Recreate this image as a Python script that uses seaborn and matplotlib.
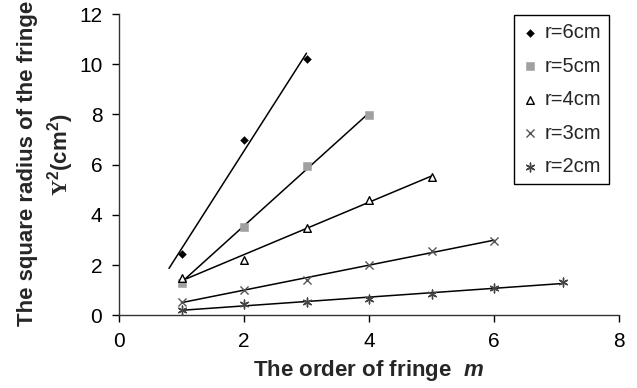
import matplotlib
matplotlib.use("Agg")
import matplotlib.pyplot as plt
import seaborn as sns
import numpy as np
import pandas as pd

# fringe data: order m vs square radius Y^2 (cm^2)
labels = ["r=6cm", "r=5cm", "r=4cm", "r=3cm", "r=2cm"]
m_r6 = [1, 2, 3]
y_r6 = [2.43, 6.98, 10.22]
m_r5 = [1, 2, 3, 4]
y_r5 = [1.30, 3.52, 5.95, 7.98]
m_r4 = [1, 2, 3, 4, 5]
y_r4 = [1.50, 2.20, 3.49, 4.59, 5.52]
m_r3 = [1, 2, 3, 4, 5, 6]
y_r3 = [0.54, 1.00, 1.42, 2.00, 2.56, 2.97]
m_r2 = [1, 2, 3, 4, 5, 6, 7.1]
y_r2 = [0.20, 0.44, 0.54, 0.65, 0.86, 1.09, 1.31]
# backward forecast of each linear trendline (in m units)
backcast = [0.2, 0, 0, 0, 0]

xs = [m_r6, m_r5, m_r4, m_r3, m_r2]
ys = [y_r6, y_r5, y_r4, y_r3, y_r2]

sns.set_style("ticks")
plt.rcParams["font.family"] = ["Liberation Sans", "DejaVu Sans"]
plt.rcParams["mathtext.fontset"] = "custom"
plt.rcParams["mathtext.rm"] = "Liberation Sans:bold"
plt.rcParams["mathtext.bf"] = "Liberation Serif:bold"
plt.rcParams["mathtext.it"] = "Liberation Sans:bold:italic"

W, H = 637, 388
fig = plt.figure(figsize=(W / 100, H / 100), dpi=100)
ax = fig.add_axes([119 / W, 1 - 315.3 / H, 500 / W, 301.3 / H])

styles = [
    dict(marker="D", s=16, color="black", edgecolor="black"),
    dict(marker="s", s=26, color="#a0a0a0", edgecolor="#a0a0a0"),
    dict(marker="^", s=30, facecolor="white", edgecolor="black", linewidth=1.0),
    dict(marker="x", s=34, color="#555555", linewidth=1.0),
    dict(marker=(6, 2, 0), s=40, color="#444444", edgecolor="#444444", linewidth=1.0),
]

for lab, x, y, st, back in zip(labels, xs, ys, styles, backcast):
    df = pd.DataFrame({"m": x, "y2": y})
    k, b = np.polyfit(df["m"], df["y2"], 1)
    fit = pd.DataFrame({"m": [df["m"].min() - back, df["m"].max()]})
    fit["y2"] = k * fit["m"] + b
    sns.lineplot(data=fit, x="m", y="y2", ax=ax, color="black", linewidth=1.1,
                 label="_nolegend_")
    sns.scatterplot(data=df, x="m", y="y2", ax=ax, label=lab, zorder=3, **st)

ax.set_xlim(0, 8)
ax.set_ylim(0, 12)
ax.set_xticks([0, 2, 4, 6, 8])
ax.set_yticks([0, 2, 4, 6, 8, 10, 12])
ax.tick_params(axis="both", labelsize=15, direction="out", length=5, width=1,
               pad=7, color="black", labelcolor="black")
for side in ["top", "right"]:
    ax.spines[side].set_visible(False)
for side in ["left", "bottom"]:
    ax.spines[side].set_color("#333333")
    ax.spines[side].set_linewidth(1.0)

ax.set_xlabel("The order of fringe  $\\mathit{m}$", fontsize=16, fontweight="bold",
              va="baseline")
ax.xaxis.set_label_coords(0.5, (315.3 - 376) / 301.3)
ax.set_ylabel("")

# two-line y label, each line anchored on its own baseline
fig.text(33 / W, 1 - 163 / H, "The square radius of the fringe", rotation=90,
         rotation_mode="anchor", ha="center", va="baseline", fontsize=16,
         fontweight="bold")
fig.text(67 / W, 1 - 155 / H, "$\\mathbf{Y}^{2}$(cm$^{2}$)", rotation=90,
         rotation_mode="anchor", ha="center", va="baseline", fontsize=16,
         fontweight="bold")

leg = ax.legend(loc="upper right", bbox_to_anchor=(609 / W, 1 - 15 / H),
                bbox_transform=fig.transFigure, borderaxespad=0, fontsize=14.5,
                frameon=True, fancybox=False, edgecolor="black", framealpha=1,
                handlelength=0.8, handletextpad=0.3, labelspacing=0.72,
                borderpad=0.4)
leg.get_frame().set_linewidth(1.0)

fig.savefig("out.png", dpi=100)
